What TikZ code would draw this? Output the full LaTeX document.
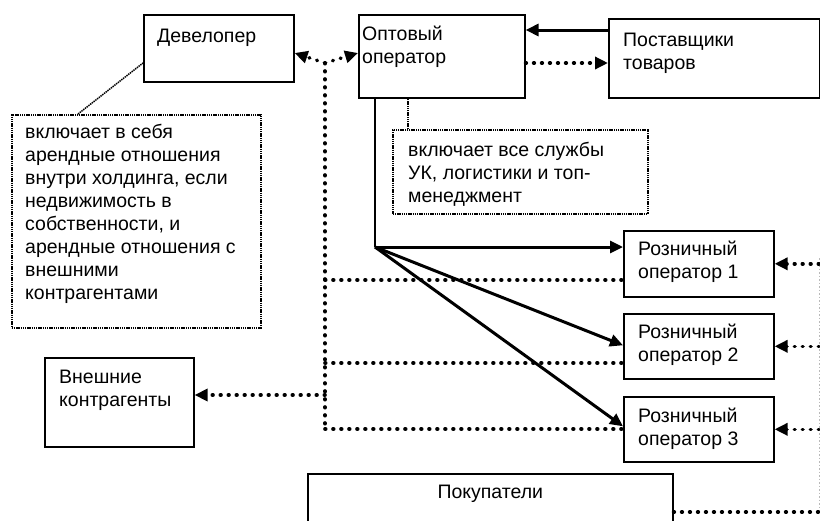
\documentclass[tikz,border=0pt]{standalone}
\usepackage{fontspec}
\setmainfont{Liberation Sans}
\usetikzlibrary{arrows.meta}
\newcommand{\mlines}[1]{\parbox[t]{260pt}{\raggedright #1}}
\begin{document}
\begin{tikzpicture}[x=1pt,y=-1pt,
  box/.style={draw, line width=1.6pt, inner sep=0pt, anchor=north west},
  notebox/.style={draw, line width=1.6pt, dash pattern=on 1.4pt off 0.8pt, inner sep=0pt, anchor=north west},
  txt/.style={font=\fontsize{19.5}{23}\selectfont, inner sep=0pt, anchor=base west},
  solidarr/.style={line width=3pt, -{Triangle[length=13pt,width=12pt]}},
  dotline/.style={line width=3.6pt, line cap=round, dash pattern=on 0.7pt off 7.3pt},
  dotarr/.style={dotline, -{Triangle[length=13pt,width=12pt]}},
  thindot/.style={line width=1.5pt, dash pattern=on 1.4pt off 0.8pt},
  graydot/.style={draw=gray!55, line width=0.9pt, dash pattern=on 1.5pt off 2pt},
]
\useasboundingbox (0,0) rectangle (820,520);
\clip (0,0) rectangle (820,520);
% boxes
\node[box, minimum width=150pt, minimum height=67pt] (dev) at (143,14) {};
\node[box, minimum width=166pt, minimum height=83pt] (opt) at (358,14) {};
\node[box, minimum width=211pt, minimum height=79pt] (sup) at (608,18) {};
\node[notebox, minimum width=255pt, minimum height=84pt] (note2) at (392,129) {};
\node[notebox, minimum width=249pt, minimum height=213pt] (note1) at (11,114) {};
\node[box, minimum width=149pt, minimum height=89pt] (ext) at (44,357) {};
\node[box, minimum width=150pt, minimum height=66pt] (r1) at (623,230) {};
\node[box, minimum width=150pt, minimum height=65pt] (r2) at (623,313) {};
\node[box, minimum width=150pt, minimum height=65pt] (r3) at (623,396) {};
\node[box, minimum width=365pt, minimum height=80pt] (pok) at (307,473) {};
% texts (anchor at first baseline)
\node[txt] (tdev) at ([shift={(14,28)}]dev.north west) {Девелопер};
\node[txt] (topt) at ([shift={(4,26)}]opt.north west) {\mlines{Оптовый\\оператор}};
\node[txt] (tsup) at ([shift={(15,28)}]sup.north west) {\mlines{Поставщики\\товаров}};
\node[txt] (tn2) at ([shift={(16,27)}]note2.north west) {\mlines{включает все службы\\УК, логистики и топ-\\менеджмент}};
\node[txt] (tn1) at ([shift={(14,24)}]note1.north west) {\mlines{включает в себя\\арендные отношения\\внутри холдинга, если\\недвижимость в\\собственности, и\\арендные отношения с\\внешними\\контрагентами}};
\node[txt] (text) at ([shift={(15,26)}]ext.north west) {\mlines{Внешние\\контрагенты}};
\node[txt] (tr1) at ([shift={(15,25)}]r1.north west) {\mlines{Розничный\\оператор 1}};
\node[txt] (tr2) at ([shift={(15,25)}]r2.north west) {\mlines{Розничный\\оператор 2}};
\node[txt] (tr3) at ([shift={(15,26)}]r3.north west) {\mlines{Розничный\\оператор 3}};
\node[txt, anchor=base] (tpok) at ([shift={(0,25)}]pok.north) {Покупатели};
% supplier links
\coordinate (s1) at ([shift={(0,12)}]sup.north west);
\draw[solidarr] (s1) -- (s1 -| opt.east);
\coordinate (s2) at ([shift={(0,49)}]opt.north east);
\draw[dotarr] (s2) -- (s2 -| sup.west);
% developer / wholesale
\coordinate (j) at (325,63);
\draw[dotarr] (j) -- ([shift={(0,39)}]dev.north east);
\draw[dotarr] (j) -- ([shift={(0,39)}]opt.north west);
\coordinate (a1) at (325,280);
\coordinate (a2) at (325,363);
\coordinate (a3) at (325,429);
\coordinate (ae) at (325,395);
\draw[dotline] (j) -- (a3);
\draw[dotline] (a1) -- (a1 -| r1.west);
\draw[dotline] (a2) -- (a2 -| r2.west);
\draw[dotline] (a3) -- (a3 -| r3.west);
\draw[dotarr] (ae) -- (ae -| ext.east);
% notes
\coordinate (n2t) at ([shift={(16,0)}]note2.north west);
\draw[thindot] (n2t) -- (n2t |- opt.south);
\draw[thindot] ([shift={(67,0)}]note1.north west) -- ([shift={(0,49)}]dev.north west);
% wholesale to retail
\coordinate (hub) at (375,247);
\draw[line width=1.6pt] (hub |- opt.south) -- (hub);
\draw[solidarr] (hub) -- (hub -| r1.west);
\draw[solidarr] (hub) -- ([shift={(0,-1)}]r2.west);
\draw[solidarr] (hub) -- ([shift={(0,-3)}]r3.west);
% right side: buyers
\coordinate (rb) at (819,512);
\draw[graydot] (819,258) -- (rb);
\draw[dotline] ([shift={(0,39)}]pok.north east) -- (rb);
\draw[dotarr] (r1.east -| rb) -- (r1.east);
\draw[dotarr] (r2.east -| rb) -- (r2.east);
\draw[dotarr] (r3.east -| rb) -- (r3.east);
\end{tikzpicture}
\end{document}
